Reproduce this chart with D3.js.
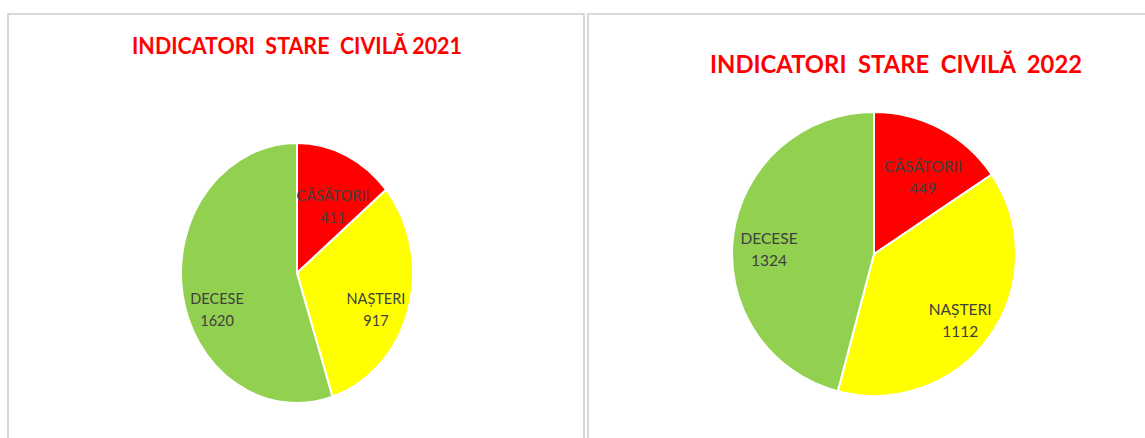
<!DOCTYPE html>
<html>
<head>
<meta charset="utf-8">
<script src="https://cdn.jsdelivr.net/npm/d3@7"></script>
<style>
  body { margin: 0; background: #fff; }
  text { font-family: Lato, "Open Sans", sans-serif; white-space: pre; }
</style>
</head>
<body>
<div id="chart"></div>
<script>
var width = 1145;
var height = 438;

// Data
var categories = ["CĂSĂTORII", "NAȘTERI", "DECESE"];
var values2021 = [411, 917, 1620];
var values2022 = [449, 1112, 1324];
var titles = ["INDICATORI  STARE  CIVILĂ 2021", "INDICATORI  STARE  CIVILĂ  2022"];
var sliceColors = ["#ff0000", "#ffff00", "#92d050"];

// Layout of the two panels
var panels = [
  { values: values2021, title: titles[0], x: 8, w: 576, cx: 297, cy: 273, rx: 116, ry: 130,
    titleX: 297, titleY: 54, titleSize: 22, titleLen: 330, labelSize: 14.5,
    labelR: [0.60, 0.735, 0.743], labelShift: [6, 6, -13] },
  { values: values2022, title: titles[1], x: 588, w: 600, cx: 874, cy: 254, rx: 142, ry: 142,
    titleX: 896, titleY: 73, titleSize: 25, titleLen: 372, labelSize: 15.5,
    labelR: [0.643, 0.764, 0.74], labelShift: [4.5, 2, -4.5] }
];

var svg = d3.select("#chart")
  .append("svg")
  .attr("width", width)
  .attr("height", height);

var color = d3.scaleOrdinal().domain(categories).range(sliceColors);

var pie = d3.pie().sort(null).value(function (d) { return d.value; });

panels.forEach(function (p) {
  // panel frame
  svg.append("rect")
    .attr("x", p.x)
    .attr("y", 14)
    .attr("width", p.w)
    .attr("height", height + 20)
    .attr("fill", "none")
    .attr("stroke", "#d9d9d9")
    .attr("stroke-width", 2);

  // title
  svg.append("text")
    .attr("x", p.titleX)
    .attr("y", p.titleY)
    .attr("text-anchor", "middle")
    .attr("fill", "#ff0000")
    .attr("font-weight", "bold")
    .attr("font-size", p.titleSize)
    .attr("textLength", p.titleLen)
    .attr("lengthAdjust", "spacingAndGlyphs")
    .text(p.title);

  var data = categories.map(function (c, i) { return { name: c, value: p.values[i], i: i }; });
  var arcs = pie(data);
  var arc = d3.arc().innerRadius(0).outerRadius(p.rx);

  // slices (y stretched for the oval pie)
  svg.append("g")
    .attr("transform", "translate(" + p.cx + "," + p.cy + ") scale(1," + (p.ry / p.rx) + ")")
    .selectAll("path")
    .data(arcs)
    .enter()
    .append("path")
    .attr("d", arc)
    .attr("fill", function (d) { return color(d.data.name); })
    .attr("stroke", "#fff")
    .attr("stroke-width", 2)
    .attr("vector-effect", "non-scaling-stroke");

  // labels
  var labels = svg.append("g")
    .selectAll("g")
    .data(arcs)
    .enter()
    .append("g")
    .attr("transform", function (d) {
      var a = (d.startAngle + d.endAngle) / 2 + p.labelShift[d.data.i] * Math.PI / 180;
      var r = p.labelR[d.data.i];
      var x = p.cx + Math.sin(a) * r * p.rx;
      var y = p.cy - Math.cos(a) * r * p.ry;
      return "translate(" + x + "," + y + ")";
    });

  labels.append("text")
    .attr("y", -5)
    .attr("text-anchor", "middle")
    .attr("fill", "#404040")
    .attr("font-size", p.labelSize)
    .text(function (d) { return d.data.name; });

  labels.append("text")
    .attr("y", 17)
    .attr("text-anchor", "middle")
    .attr("fill", "#404040")
    .attr("font-size", p.labelSize)
    .text(function (d) { return d.data.value; });
});
</script>
</body>
</html>
